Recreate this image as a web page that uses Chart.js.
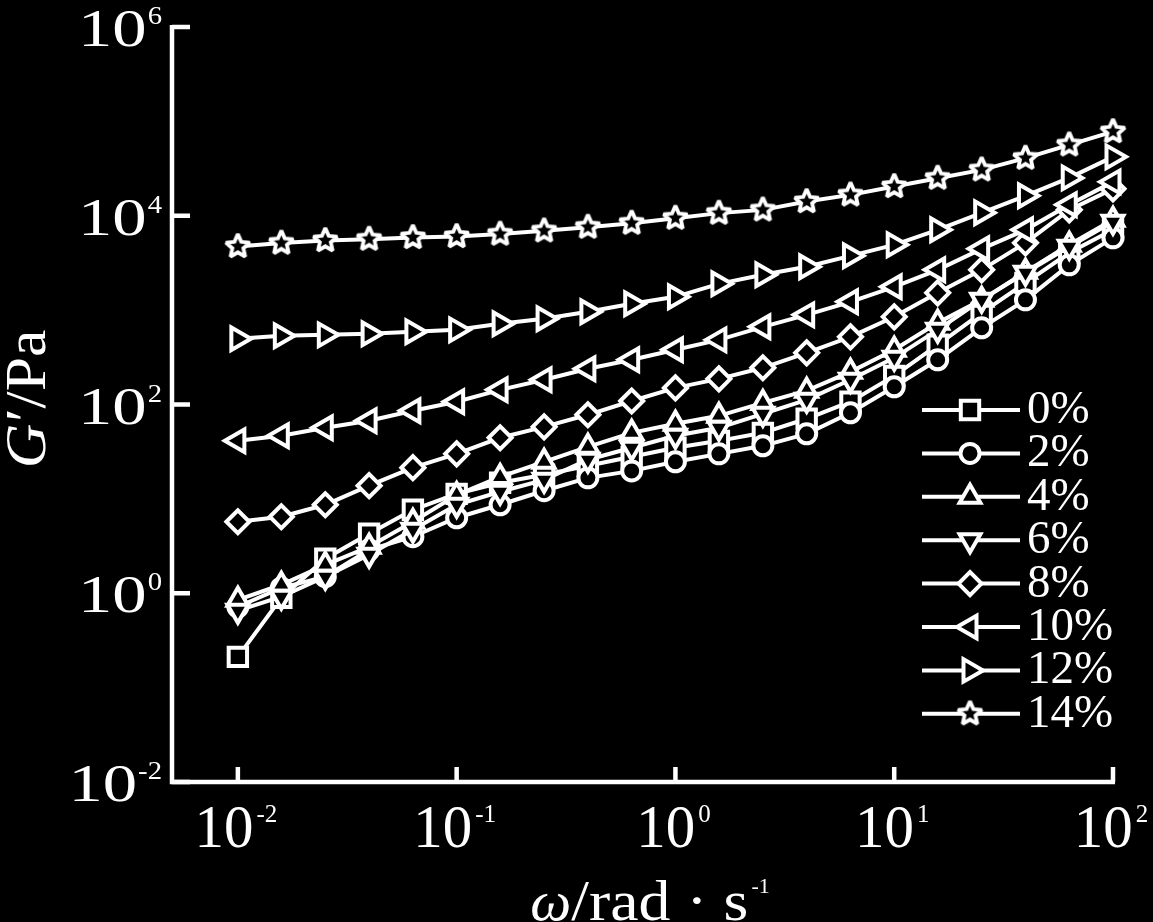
<!DOCTYPE html>
<html>
<head>
<meta charset="utf-8">
<script src="https://cdn.jsdelivr.net/npm/chart.js@4.4.1/dist/chart.umd.min.js"></script>
<style>
html, body { margin: 0; padding: 0; background: #000; }
canvas { display: block; }
</style>
</head>
<body>
<canvas id="myChart" width="1153" height="922"></canvas>
<script>
// angular frequency, rad/s
var omega = [0.01, 0.0158, 0.0251, 0.0398, 0.0631, 0.1, 0.158, 0.251, 0.398, 0.631,
	1, 1.58, 2.51, 3.98, 6.31, 10, 15.8, 25.1, 39.8, 63.1, 100];

// storage modulus G', Pa
var g0 = [0.212, 0.896, 2.32, 4.27, 7.67, 11.3, 14.8, 18.0, 22.4, 27.9, 34.8, 41.2, 50.1, 70.6, 107, 201, 429, 936, 1946, 4050, 7090];
var g2 = [0.719, 1.14, 1.50, 2.89, 3.97, 6.31, 8.66, 12.2, 16.7, 19.8, 24.7, 30.0, 36.5, 48.9, 81.7, 154, 298, 650, 1285, 3020, 5830];
var g4 = [0.853, 1.23, 2.00, 3.11, 5.72, 11.0, 17.1, 24.7, 35.6, 50.1, 62.5, 75.9, 104, 140, 222, 380, 733, 1285, 2545, 4920, 9050];
var g6 = [0.653, 0.918, 1.50, 2.56, 4.71, 8.66, 11.9, 15.9, 26.0, 34.8, 46.6, 56.6, 79.7, 112, 183, 312, 618, 1285, 2483, 4690, 8620];
var g8 = [5.72, 6.46, 8.66, 13.8, 21.4, 30.0, 44.4, 58.0, 77.8, 109, 150, 187, 245, 353, 521, 849, 1525, 2672, 5160, 11550, 19270];
var g10 = [41.2, 46.6, 56.6, 67.2, 85.8, 107, 143, 183, 239, 298, 380, 484, 665, 891, 1225, 1766, 2672, 4460, 7090, 13050, 22860];
var g12 = [497, 534, 547, 561, 589, 618, 716, 809, 960, 1166, 1384, 1900, 2366, 2877, 3760, 4920, 7100, 10740, 16260, 25180, 42070];
var g14 = [4720, 5130, 5460, 5650, 5880, 6020, 6390, 6920, 7570, 8350, 9430, 10660, 11540, 14130, 16640, 20390, 25010, 30630, 40740, 56380, 77980];

var seriesLabels = ['0%', '2%', '4%', '6%', '8%', '10%', '12%', '14%'];
var xTickExp = [-2, -1, 0, 1, 2];
var yTickExp = [-2, 0, 2, 4, 6];

var series = [g0, g2, g4, g6, g8, g10, g12, g14];

var SERIF = '"Liberation Serif", "Times New Roman", serif';

// hollow five-point star, drawn once and used as a point style
function makeStar(outer, inner, lw) {
	var size = Math.ceil(2 * outer + 2 * lw + 4);
	var c = document.createElement('canvas');
	c.width = size; c.height = size;
	var g = c.getContext('2d');
	g.beginPath();
	for (var k = 0; k < 10; k++) {
		var r = k % 2 ? inner : outer;
		var ang = -Math.PI / 2 + k * Math.PI / 5;
		g.lineTo(size / 2 + r * Math.cos(ang), size / 2 + r * Math.sin(ang));
	}
	g.closePath();
	g.fillStyle = '#000';
	g.fill();
	g.lineWidth = lw;
	g.strokeStyle = '#fff';
	g.lineJoin = 'miter';
	g.miterLimit = 2;
	g.stroke();
	return c;
}

var star = makeStar(12.5, 5.8, 3.8);
var markerStyle = ['rect', 'circle', 'triangle', 'triangle', 'rectRot', 'triangle', 'triangle', star];
var markerRotation = [0, 0, 0, 180, 0, 270, 90, 0];
var markerRadius = [13, 9.5, 12, 12, 11.5, 13, 13, 13];

function text(ctx, s, x, y, size, sx, align, style) {
	ctx.save();
	ctx.font = (style ? style + ' ' : '') + size + 'px ' + SERIF;
	ctx.textAlign = align || 'left';
	ctx.textBaseline = 'alphabetic';
	ctx.fillStyle = '#fff';
	ctx.translate(x, y);
	ctx.scale(sx, 1);
	ctx.fillText(s, 0, 0);
	ctx.restore();
}

function textWidth(ctx, s, size, sx, style) {
	ctx.save();
	ctx.font = (style ? style + ' ' : '') + size + 'px ' + SERIF;
	var w = ctx.measureText(s).width * sx;
	ctx.restore();
	return w;
}

var axesPlugin = {
	id: 'axes',
	beforeDatasetsDraw: function(chart) {
		var ctx = chart.ctx, a = chart.chartArea, xs = chart.scales.x, ys = chart.scales.y;
		ctx.save();
		ctx.strokeStyle = '#fff';
		ctx.lineWidth = 4.5;
		ctx.lineJoin = 'miter';
		ctx.beginPath();
		ctx.moveTo(a.left, a.top - 2);
		ctx.lineTo(a.left, a.bottom);
		ctx.lineTo(a.right + 2, a.bottom);
		ctx.stroke();
		ctx.beginPath();
		yTickExp.forEach(function(e) {
			var p = ys.getPixelForValue(Math.pow(10, e));
			ctx.moveTo(a.left, p);
			ctx.lineTo(a.left + 18, p);
		});
		xTickExp.forEach(function(e) {
			var p = xs.getPixelForValue(Math.pow(10, e));
			ctx.moveTo(p, a.bottom);
			ctx.lineTo(p, a.bottom - 15);
		});
		ctx.stroke();
		ctx.restore();
	},
	afterDraw: function(chart) {
		var ctx = chart.ctx, xs = chart.scales.x, ys = chart.scales.y;

		// y tick labels 10^n
		yTickExp.forEach(function(e) {
			var p = ys.getPixelForValue(Math.pow(10, e));
			var sup = String(e);
			var ws = textWidth(ctx, sup, 25, 1.15);
			var right = 162;
			text(ctx, sup, right - ws, p - 3, 25, 1.15, 'left');
			text(ctx, '10', right - ws - 1, p + 19, 52, 1.32, 'right');
		});

		// x tick labels 10^n
		xTickExp.forEach(function(e) {
			var p = xs.getPixelForValue(Math.pow(10, e));
			var sup = String(e);
			var w10 = textWidth(ctx, '10', 62, 0.95);
			var ws = textWidth(ctx, sup, 25, 1);
			var start = p - (w10 + 3 + ws) / 2 - 2;
			text(ctx, '10', start, 847, 62, 0.95, 'left');
			text(ctx, sup, start + w10 + 3, 822, 25, 1, 'left');
		});

		// x title: omega/rad . s^-1
		var wOm = textWidth(ctx, 'ω', 58, 1, 'italic');
		var wRest = textWidth(ctx, '/rad · s', 58, 1.1);
		var wSup = textWidth(ctx, '-1', 22, 1);
		var x0 = 650 - (wOm + wRest + wSup + 3) / 2;
		text(ctx, 'ω', x0, 920, 58, 1, 'left', 'italic');
		text(ctx, '/rad · s', x0 + wOm, 920, 58, 1.1, 'left');
		text(ctx, '-1', x0 + wOm + wRest + 3, 893, 22, 1, 'left');

		// y title: G'/Pa, rotated
		ctx.save();
		ctx.translate(45, 400);
		ctx.rotate(-Math.PI / 2);
		var wG = textWidth(ctx, 'G', 56, 1.1, 'italic');
		var wP = textWidth(ctx, '′/Pa', 56, 1.1);
		var s0 = -(wG + wP) / 2;
		text(ctx, 'G', s0, 0, 56, 1.1, 'left', 'italic');
		text(ctx, '′/Pa', s0 + wG + 2, 0, 56, 1.1, 'left');
		ctx.restore();
	}
};

var legendPlugin = {
	id: 'sideLegend',
	afterDatasetsDraw: function(chart) {
		var ctx = chart.ctx;
		seriesLabels.forEach(function(lab, i) {
			var y = 410 + 43.4 * i;
			ctx.save();
			ctx.strokeStyle = '#fff';
			ctx.lineWidth = 4;
			ctx.beginPath();
			ctx.moveTo(922, y);
			ctx.lineTo(1020, y);
			ctx.stroke();
			ctx.fillStyle = '#000';
			ctx.strokeStyle = '#fff';
			ctx.lineWidth = 4;
			ctx.lineJoin = 'miter';
			if (Chart.helpers && Chart.helpers.drawPoint) {
				Chart.helpers.drawPoint(ctx, {
					pointStyle: markerStyle[i],
					rotation: markerRotation[i],
					radius: markerRadius[i],
					borderWidth: 4
				}, 970, y);
			}
			ctx.restore();
			text(ctx, lab, 1027, y + 13, 47, 1, 'left');
		});
	}
};

var chart = null;

function drawChart() {
	var context = document.getElementById('myChart').getContext('2d');

	var datasets = series.map(function(vals, i) {
		return {
			label: seriesLabels[i],
			data: vals.map(function(v, k) { return { x: omega[k], y: v }; }),
			borderColor: '#fff',
			borderWidth: 4,
			pointStyle: markerStyle[i],
			pointRotation: markerRotation[i],
			pointRadius: markerRadius[i],
			pointBorderWidth: 4,
			pointBorderColor: '#fff',
			pointBackgroundColor: '#000',
			tension: 0,
			fill: false,
			clip: false,
			order: series.length - i   // later series on top
		};
	});

	chart = new Chart(context, {
		type: 'line',
		data: { datasets: datasets },
		options: {
			responsive: false,
			animation: false,
			devicePixelRatio: 1,
			events: [],
			layout: { padding: { left: 172, right: 40, top: 27, bottom: 140 } },
			scales: {
				x: { type: 'logarithmic', min: 0.005, max: 100, display: false },
				y: { type: 'logarithmic', min: 0.01, max: 1e6, display: false }
			},
			plugins: {
				legend: { display: false },
				tooltip: { enabled: false }
			}
		},
		plugins: [axesPlugin, legendPlugin]
	});
}

window.onload = function() {
	drawChart();
};
</script>
</body>
</html>
